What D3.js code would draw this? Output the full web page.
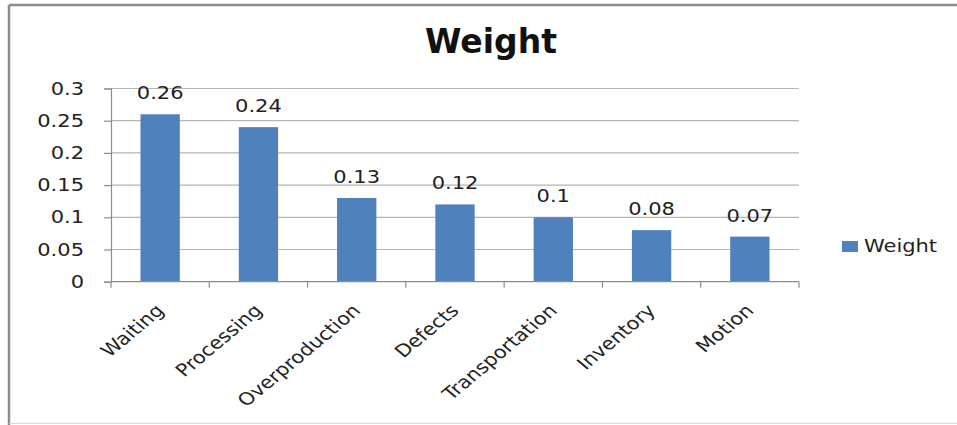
<!DOCTYPE html>
<html>
<head>
<meta charset="utf-8">
<script src="https://cdn.jsdelivr.net/npm/d3@7"></script>
<style>
  html, body { margin: 0; padding: 0; background: #fff; }
  svg { display: block; }
</style>
</head>
<body>
<div id="chart"></div>
<script>
// Waste categories and their weights
const categories = ["Waiting", "Processing", "Overproduction", "Defects", "Transportation", "Inventory", "Motion"];
const weights = [0.26, 0.24, 0.13, 0.12, 0.1, 0.08, 0.07];
const yTicks = [0, 0.05, 0.1, 0.15, 0.2, 0.25, 0.3];
const seriesName = "Weight";
const chartTitle = "Weight";

const W = 957, H = 425;
const plot = { left: 111, right: 799, top: 88.5, bottom: 281.7 };
const font = "'DejaVu Sans', Verdana, sans-serif";
const fs = 17.5;      // body text size
const sx = 1.2;       // horizontal widening of body text

const svg = d3.select("#chart").append("svg")
  .attr("width", W).attr("height", H);

// outer chart frame: top, left and a faint bottom edge
const frame = svg.append("g").attr("stroke", "#8c8c8c");
frame.append("line").attr("x1", 9).attr("x2", W).attr("y1", 5).attr("y2", 5).attr("stroke-width", 2.5);
frame.append("line").attr("x1", 9).attr("x2", 9).attr("y1", 5).attr("y2", H).attr("stroke-width", 2.5);
frame.append("line").attr("x1", 9).attr("x2", W).attr("y1", 423.5).attr("y2", 423.5)
  .attr("stroke", "#d8d8d8").attr("stroke-width", 1);

const x = d3.scaleBand()
  .domain(categories)
  .range([plot.left, plot.right])
  .paddingInner(0.6)
  .paddingOuter(0.3);

const y = d3.scaleLinear()
  .domain([0, 0.3])
  .range([plot.bottom, plot.top]);

// horizontal gridlines
svg.append("g")
  .selectAll("line")
  .data(yTicks.filter(d => d > 0))
  .join("line")
  .attr("x1", plot.left).attr("x2", plot.right)
  .attr("y1", d => y(d)).attr("y2", d => y(d))
  .attr("stroke", "#b4b4b4")
  .attr("stroke-width", 1.2);

// y axis
const yAxis = svg.append("g")
  .attr("transform", `translate(${plot.left},0)`)
  .call(d3.axisLeft(y).tickValues(yTicks).tickSize(7).tickPadding(20)
    .tickFormat(d => String(+d.toFixed(2))));
yAxis.select(".domain").attr("stroke", "#8c8c8c").attr("stroke-width", 1.2);
yAxis.selectAll(".tick line").attr("stroke", "#8c8c8c").attr("stroke-width", 1.2);
yAxis.selectAll(".tick text")
  .attr("x", -27 / sx)
  .attr("transform", `scale(${sx},1)`)
  .attr("font-family", font).attr("font-size", fs).attr("fill", "#222");

// bars
svg.append("g")
  .selectAll("rect")
  .data(categories)
  .join("rect")
  .attr("x", d => x(d))
  .attr("width", x.bandwidth())
  .attr("y", (d, i) => y(weights[i]))
  .attr("height", (d, i) => y(0) - y(weights[i]))
  .attr("fill", "#4f81bd");

// value labels
svg.append("g")
  .selectAll("text")
  .data(categories)
  .join("text")
  .attr("transform", (d, i) => `translate(${x(d) + x.bandwidth() / 2},${y(weights[i]) - 15}) scale(${sx},1)`)
  .attr("text-anchor", "middle")
  .attr("font-family", font).attr("font-size", fs).attr("fill", "#222")
  .text((d, i) => String(weights[i]));

// x axis line with category boundary ticks
const xAxisG = svg.append("g");
xAxisG.append("line")
  .attr("x1", plot.left).attr("x2", plot.right)
  .attr("y1", y(0)).attr("y2", y(0))
  .attr("stroke", "#8c8c8c").attr("stroke-width", 1.2);
const step = x.step();
const bounds = d3.range(categories.length + 1).map(i => plot.left + i * step);
xAxisG.selectAll("line.tk")
  .data(bounds)
  .join("line")
  .attr("class", "tk")
  .attr("x1", d => d).attr("x2", d => d)
  .attr("y1", y(0)).attr("y2", y(0) + 6)
  .attr("stroke", "#8c8c8c").attr("stroke-width", 1.2);

// rotated category labels
xAxisG.selectAll("text")
  .data(categories)
  .join("text")
  .attr("text-anchor", "end")
  .attr("transform", d => `translate(${x(d) + x.bandwidth() / 2 + 5},${y(0) + 30}) scale(${sx},1) rotate(-45)`)
  .attr("font-family", font).attr("font-size", fs).attr("fill", "#222")
  .text(d => d);

// title
svg.append("text")
  .attr("x", 491).attr("y", 53)
  .attr("text-anchor", "middle")
  .attr("font-family", font).attr("font-weight", "bold")
  .attr("font-size", 33).attr("fill", "#111")
  .text(chartTitle);

// legend
const legend = svg.append("g").attr("transform", "translate(842,241)");
legend.append("rect")
  .attr("width", 16).attr("height", 11)
  .attr("fill", "#4f81bd");
legend.append("text")
  .attr("transform", `translate(22,11) scale(${sx},1)`)
  .attr("font-family", font).attr("font-size", fs).attr("fill", "#222")
  .text(seriesName);
</script>
</body>
</html>
